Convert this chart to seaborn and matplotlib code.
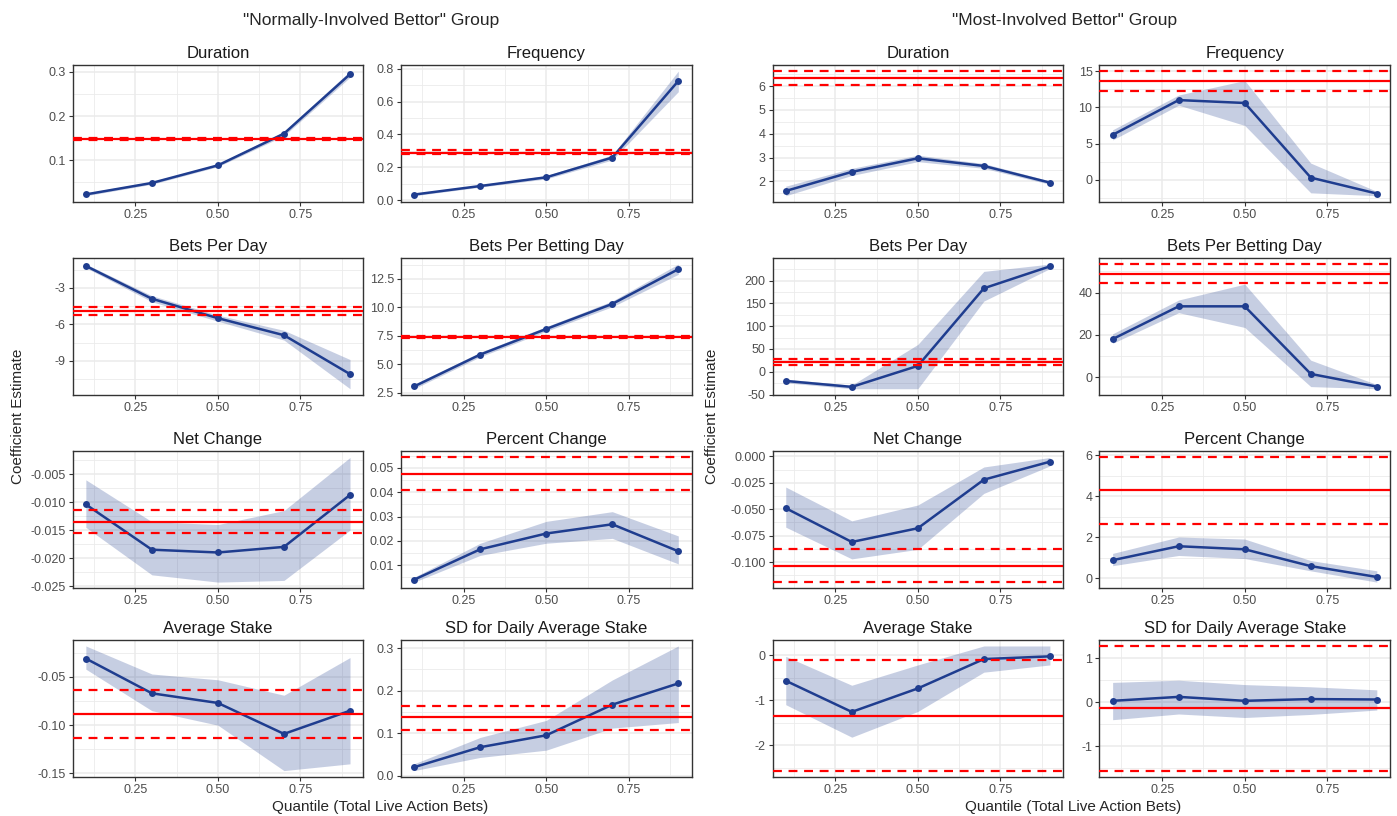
import numpy as np
import pandas as pd
import seaborn as sns
import matplotlib
matplotlib.use("Agg")
import matplotlib.pyplot as plt
from matplotlib.ticker import FixedLocator, AutoMinorLocator

quantiles = [0.1, 0.3, 0.5, 0.7, 0.9]
x_ticks = ["0.25", "0.50", "0.75"]

group_titles = ['"Normally-Involved Bettor" Group', '"Most-Involved Bettor" Group']
panel_titles = ["Duration", "Frequency", "Bets Per Day", "Bets Per Betting Day",
                "Net Change", "Percent Change", "Average Stake", "SD for Daily Average Stake"]

# ---- "Normally-Involved" group: estimate, ribbon low/high, pooled [coef, low, high], y ticks
n_dur_est = [0.022, 0.048, 0.088, 0.160, 0.295]
n_dur_lo = [0.019, 0.045, 0.085, 0.155, 0.288]
n_dur_hi = [0.025, 0.051, 0.091, 0.165, 0.302]
n_dur_ref = [0.148, 0.146, 0.150]
n_dur_ticks = ["0.1", "0.2", "0.3"]

n_freq_est = [0.035, 0.087, 0.140, 0.260, 0.725]
n_freq_lo = [0.028, 0.080, 0.130, 0.245, 0.660]
n_freq_hi = [0.042, 0.094, 0.150, 0.275, 0.785]
n_freq_ref = [0.290, 0.283, 0.308]
n_freq_ticks = ["0.0", "0.2", "0.4", "0.6", "0.8"]

n_bpd_est = [-1.2, -3.9, -5.5, -6.9, -10.1]
n_bpd_lo = [-1.35, -4.15, -5.75, -7.3, -11.3]
n_bpd_hi = [-1.05, -3.65, -5.25, -6.5, -8.9]
n_bpd_ref = [-4.9, -5.2, -4.6]
n_bpd_ticks = ["-9", "-6", "-3"]

n_bpbd_est = [3.05, 5.85, 8.1, 10.3, 13.35]
n_bpbd_lo = [2.85, 5.65, 7.9, 10.05, 12.9]
n_bpbd_hi = [3.25, 6.05, 8.3, 10.55, 13.8]
n_bpbd_ref = [7.4, 7.3, 7.5]
n_bpbd_ticks = ["2.5", "5.0", "7.5", "10.0", "12.5"]

n_net_est = [-0.0104, -0.0185, -0.0190, -0.0180, -0.0087]
n_net_lo = [-0.0145, -0.0230, -0.0243, -0.0240, -0.0150]
n_net_hi = [-0.0060, -0.0135, -0.0140, -0.0115, -0.0020]
n_net_ref = [-0.0135, -0.0156, -0.0114]
n_net_ticks = ["-0.025", "-0.020", "-0.015", "-0.010", "-0.005"]

n_pct_est = [0.0040, 0.0165, 0.0230, 0.0268, 0.0157]
n_pct_lo = [0.0030, 0.0140, 0.0190, 0.0210, 0.0105]
n_pct_hi = [0.0050, 0.0190, 0.0280, 0.0320, 0.0220]
n_pct_ref = [0.0477, 0.0411, 0.0543]
n_pct_ticks = ["0.00", "0.01", "0.02", "0.03", "0.04", "0.05"]

n_stake_est = [-0.031, -0.067, -0.077, -0.109, -0.085]
n_stake_lo = [-0.042, -0.085, -0.100, -0.147, -0.140]
n_stake_hi = [-0.018, -0.047, -0.053, -0.069, -0.030]
n_stake_ref = [-0.088, -0.113, -0.064]
n_stake_ticks = ["-0.15", "-0.10", "-0.05"]

n_sd_est = [0.020, 0.067, 0.095, 0.167, 0.217]
n_sd_lo = [0.012, 0.043, 0.060, 0.112, 0.125]
n_sd_hi = [0.028, 0.090, 0.130, 0.225, 0.305]
n_sd_ref = [0.137, 0.108, 0.165]
n_sd_ticks = ["0.0", "0.1", "0.2", "0.3"]

# ---- "Most-Involved" group
m_dur_est = [1.60, 2.40, 2.97, 2.65, 1.95]
m_dur_lo = [1.40, 2.25, 2.83, 2.55, 1.88]
m_dur_hi = [1.80, 2.55, 3.10, 2.75, 2.02]
m_dur_ref = [6.33, 6.03, 6.63]
m_dur_ticks = ["2", "3", "4", "5", "6"]

m_freq_est = [6.2, 11.0, 10.6, 0.3, -1.9]
m_freq_lo = [5.5, 10.3, 7.5, -1.8, -2.2]
m_freq_hi = [6.9, 11.7, 13.7, 2.3, -1.6]
m_freq_ref = [13.6, 12.2, 15.0]
m_freq_ticks = ["0", "5", "10", "15"]

m_bpd_est = [-20, -33, 13, 183, 231]
m_bpd_lo = [-24, -37, -37, 155, 226]
m_bpd_hi = [-16, -29, 60, 220, 236]
m_bpd_ref = [21, 14, 28]
m_bpd_ticks = ["-50", "0", "50", "100", "150", "200", "250"]

m_bpbd_est = [18.0, 33.5, 33.5, 1.5, -4.5]
m_bpbd_lo = [16.0, 30.5, 23.5, -4.5, -5.5]
m_bpbd_hi = [20.5, 36.5, 44.0, 8.0, -3.5]
m_bpbd_ref = [49.0, 44.5, 53.5]
m_bpbd_ticks = ["0", "20", "40"]

m_net_est = [-0.049, -0.081, -0.068, -0.022, -0.005]
m_net_lo = [-0.067, -0.097, -0.088, -0.035, -0.009]
m_net_hi = [-0.029, -0.061, -0.046, -0.010, -0.001]
m_net_ref = [-0.104, -0.119, -0.088]
m_net_ticks = ["-0.125", "-0.100", "-0.075", "-0.050", "-0.025", "0.000"]

m_pct_est = [0.87, 1.55, 1.40, 0.58, 0.05]
m_pct_lo = [0.60, 1.10, 0.95, 0.35, -0.20]
m_pct_hi = [1.20, 2.00, 1.90, 0.85, 0.35]
m_pct_ref = [4.28, 2.62, 5.88]
m_pct_ticks = ["0", "2", "4", "6"]

m_stake_est = [-0.57, -1.26, -0.74, -0.09, -0.03]
m_stake_lo = [-1.10, -1.82, -1.25, -0.38, -0.22]
m_stake_hi = [-0.03, -0.67, -0.22, 0.20, 0.20]
m_stake_ref = [-1.34, -2.56, -0.12]
m_stake_ticks = ["-2", "-1", "0"]

m_sd_est = [0.03, 0.12, 0.03, 0.07, 0.06]
m_sd_lo = [-0.40, -0.27, -0.35, -0.28, -0.18]
m_sd_hi = [0.45, 0.50, 0.40, 0.35, 0.28]
m_sd_ref = [-0.13, -1.56, 1.28]
m_sd_ticks = ["-1", "0", "1"]

groups = [
    [(n_dur_est, n_dur_lo, n_dur_hi, n_dur_ref, n_dur_ticks),
     (n_freq_est, n_freq_lo, n_freq_hi, n_freq_ref, n_freq_ticks),
     (n_bpd_est, n_bpd_lo, n_bpd_hi, n_bpd_ref, n_bpd_ticks),
     (n_bpbd_est, n_bpbd_lo, n_bpbd_hi, n_bpbd_ref, n_bpbd_ticks),
     (n_net_est, n_net_lo, n_net_hi, n_net_ref, n_net_ticks),
     (n_pct_est, n_pct_lo, n_pct_hi, n_pct_ref, n_pct_ticks),
     (n_stake_est, n_stake_lo, n_stake_hi, n_stake_ref, n_stake_ticks),
     (n_sd_est, n_sd_lo, n_sd_hi, n_sd_ref, n_sd_ticks)],
    [(m_dur_est, m_dur_lo, m_dur_hi, m_dur_ref, m_dur_ticks),
     (m_freq_est, m_freq_lo, m_freq_hi, m_freq_ref, m_freq_ticks),
     (m_bpd_est, m_bpd_lo, m_bpd_hi, m_bpd_ref, m_bpd_ticks),
     (m_bpbd_est, m_bpbd_lo, m_bpbd_hi, m_bpbd_ref, m_bpbd_ticks),
     (m_net_est, m_net_lo, m_net_hi, m_net_ref, m_net_ticks),
     (m_pct_est, m_pct_lo, m_pct_hi, m_pct_ref, m_pct_ticks),
     (m_stake_est, m_stake_lo, m_stake_hi, m_stake_ref, m_stake_ticks),
     (m_sd_est, m_sd_lo, m_sd_hi, m_sd_ref, m_sd_ticks)],
]

sns.set_theme(style="white")
plt.rcParams['font.family'] = ['Liberation Sans', 'DejaVu Sans']
plt.rcParams['axes.unicode_minus'] = False

navy = '#1f3d8f'
grid_col = '#ebebeb'

fig = plt.figure(figsize=(13.97, 8.16), dpi=100)

col_left = [[0.052, 0.287], [0.553, 0.787]]
panel_w = 0.208
row_bottom = [0.7525, 0.516, 0.279, 0.048]
panel_h = 0.168

for g, panels in enumerate(groups):
    for i, (est, lo, hi, ref, yt) in enumerate(panels):
        r, c = divmod(i, 2)
        ax = fig.add_axes([col_left[g][c], row_bottom[r], panel_w, panel_h])
        df = pd.DataFrame({'quantile': quantiles, 'estimate': est, 'lo': lo, 'hi': hi})

        ax.fill_between(df['quantile'], df['lo'], df['hi'], color=navy, alpha=0.25,
                        linewidth=0, zorder=2)
        sns.lineplot(data=df, x='quantile', y='estimate', color=navy, marker='o',
                     markersize=5, markeredgewidth=0, linewidth=1.8, ax=ax, zorder=3)
        ax.axhline(ref[0], color='red', linewidth=1.6, zorder=4)
        ax.axhline(ref[1], color='red', linewidth=1.6, linestyle=(0, (4, 3)), zorder=4)
        ax.axhline(ref[2], color='red', linewidth=1.6, linestyle=(0, (4, 3)), zorder=4)

        vals = list(est) + list(lo) + list(hi) + list(ref)
        span = max(vals) - min(vals)
        ax.set_xlim(0.06, 0.94)
        ax.set_ylim(min(vals) - 0.05 * span, max(vals) + 0.05 * span)

        ax.xaxis.set_major_locator(FixedLocator([float(t) for t in x_ticks]))
        ax.set_xticklabels(x_ticks)
        ax.yaxis.set_major_locator(FixedLocator([float(t) for t in yt]))
        ax.set_yticklabels(yt)
        ax.xaxis.set_minor_locator(AutoMinorLocator(2))
        ax.yaxis.set_minor_locator(AutoMinorLocator(2))

        ax.grid(which='major', color=grid_col, linewidth=1.1, zorder=0)
        ax.grid(which='minor', color=grid_col, linewidth=0.6, zorder=0)
        ax.set_axisbelow(True)
        for s in ax.spines.values():
            s.set_color('#333333')
            s.set_linewidth(1.0)
        ax.tick_params(which='major', length=3, width=0.8, color='#333333',
                       labelsize=9, labelcolor='#4d4d4d', pad=2, bottom=True, left=True)
        ax.tick_params(which='minor', length=0)
        ax.set_xlabel('')
        ax.set_ylabel('')
        ax.set_title(panel_titles[i], fontsize=12, pad=5, color='#1a1a1a')

fig.text(0.266, 0.975, group_titles[0], ha='center', va='center', fontsize=12.5)
fig.text(0.762, 0.975, group_titles[1], ha='center', va='center', fontsize=12.5)
for xc in [0.013, 0.510]:
    fig.text(xc, 0.49, 'Coefficient Estimate', rotation=90, ha='center', va='center',
             fontsize=11)
for xc in [0.272, 0.768]:
    fig.text(xc, 0.011, 'Quantile (Total Live Action Bets)', ha='center', va='center',
             fontsize=11)

fig.savefig('out.png', dpi=100)
